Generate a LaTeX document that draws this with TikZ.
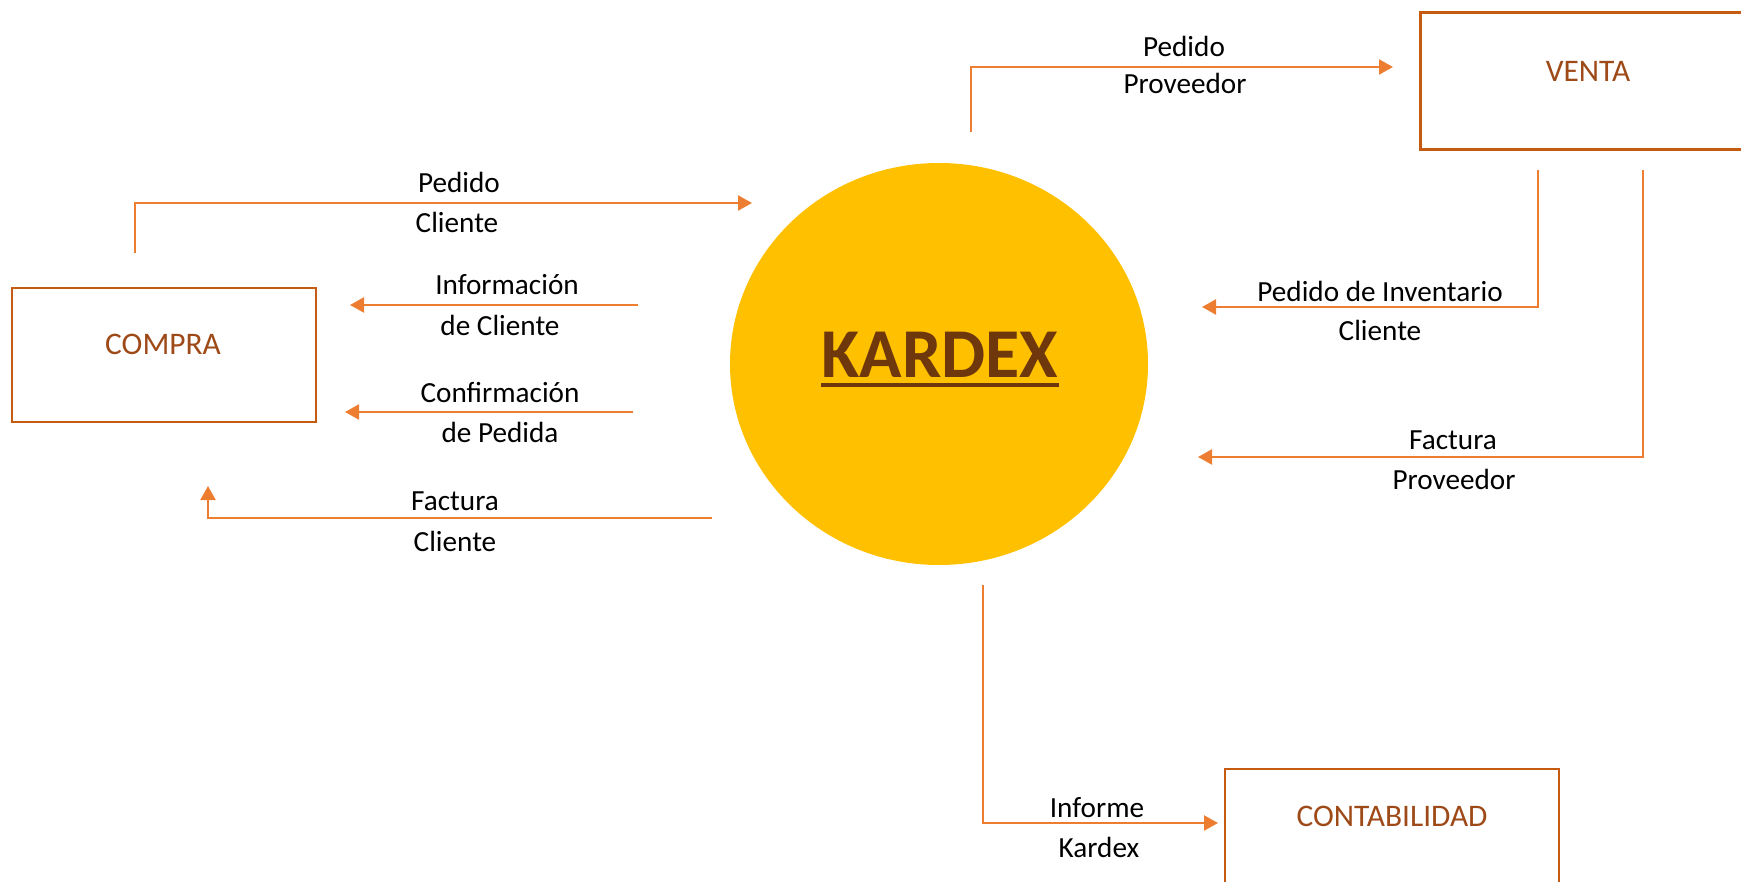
\documentclass[tikz,border=0pt]{standalone}
\usepackage{fontspec}
\setmainfont{Carlito}
\usetikzlibrary{arrows.meta,shapes.geometric}
\definecolor{flowline}{HTML}{ED7D31}
\definecolor{boxline}{HTML}{C55A11}
\definecolor{boxink}{HTML}{9E4A18}
\definecolor{kardexfill}{HTML}{FFC000}
\definecolor{kardexink}{HTML}{6E380C}
\tikzset{
  flow/.style={draw=flowline, line width=1.1pt, -{Triangle[length=7pt,width=7.5pt]}},
  box/.style={draw=boxline, line width=1.2pt, rectangle, inner sep=0pt},
  boxtext/.style={text=boxink, inner sep=0pt, font=\fontsize{15.7}{18}\selectfont},
  lbl/.style={text=black, inner sep=0pt, font=\fontsize{14.6}{17}\selectfont},
}

\begin{document}
\begin{tikzpicture}[x=0.5pt,y=-0.5pt]
      \useasboundingbox (0,0) rectangle (1741,882);
      % process and entities
      \node[ellipse, fill=kardexfill, inner sep=0pt, minimum width=209pt, minimum height=201pt] (kardex) at (939,364) {};
      \node[text=kardexink, inner sep=0pt, anchor=base, font=\fontsize{35}{40}\bfseries] (kardexText) at (940,378) {KARDEX};
      \draw[kardexink, line width=1.5pt] ([yshift=-3.5pt]kardexText.base west) -- ([yshift=-3.5pt]kardexText.base east);
      \node[box, minimum width=152pt, minimum height=67pt] (compra) at (164,355) {};
      \node[box, minimum width=169.5pt, minimum height=68.5pt] (venta) at (1590,81) {};
      \node[box, minimum width=167pt, minimum height=66pt] (conta) at (1392,835) {};
      \node[boxtext] (compraText) at (163,344) {COMPRA};
      \node[boxtext] (ventaText) at (1588,71) {VENTA};
      \node[boxtext] (contaText) at (1392,816) {CONTABILIDAD};
      % connector ends
      \coordinate (pcS) at (135,253);  \coordinate (pcT) at (752,203);
      \coordinate (icS) at (638,305);  \coordinate (icT) at (350,305);
      \coordinate (cpS) at (633,412);  \coordinate (cpT) at (345,412);
      \coordinate (fcS) at (712,518);  \coordinate (fcT) at (208,486);
      \coordinate (ppS) at (971,132);  \coordinate (ppT) at (1393,67);
      \coordinate (piS) at (1538,170); \coordinate (piT) at (1202,307);
      \coordinate (fpS) at (1643,170); \coordinate (fpT) at (1198,457);
      \coordinate (ikS) at (983,585);  \coordinate (ikT) at (1218,823);
      \foreach \a/\b in {pcS/pcT, ppS/ppT, piS/piT, fpS/fpT, ikS/ikT} {
	\draw[flow] (\a) |- (\b);
      };
      \foreach \a/\b in {icS/icT, cpS/cpT} {
	\draw[flow] (\a) -- (\b);
      };
      \draw[flow] (fcS) -| (fcT);
      % flow labels
      \foreach \n/\x/\y/\t in {pc1/459/182/Pedido, pc2/457/222/Cliente,
          ic1/507/285/Información, ic2/500/325/de Cliente,
          cp1/500/393/Confirmación, cp2/500/432/de Pedida,
          fc1/455/501/Factura, fc2/455/541/Cliente,
          pp1/1184/46/Pedido, pp2/1185/83/Proveedor,
          pi1/1380/291/Pedido de Inventario, pi2/1380/330/Cliente,
          fp1/1453/440/Factura, fp2/1454/479/Proveedor,
          ik1/1097/808/Informe, ik2/1099/847/Kardex} {
	\node[lbl] (\n) at (\x,\y) {\t};
      };
    \end{tikzpicture}
\end{document}
